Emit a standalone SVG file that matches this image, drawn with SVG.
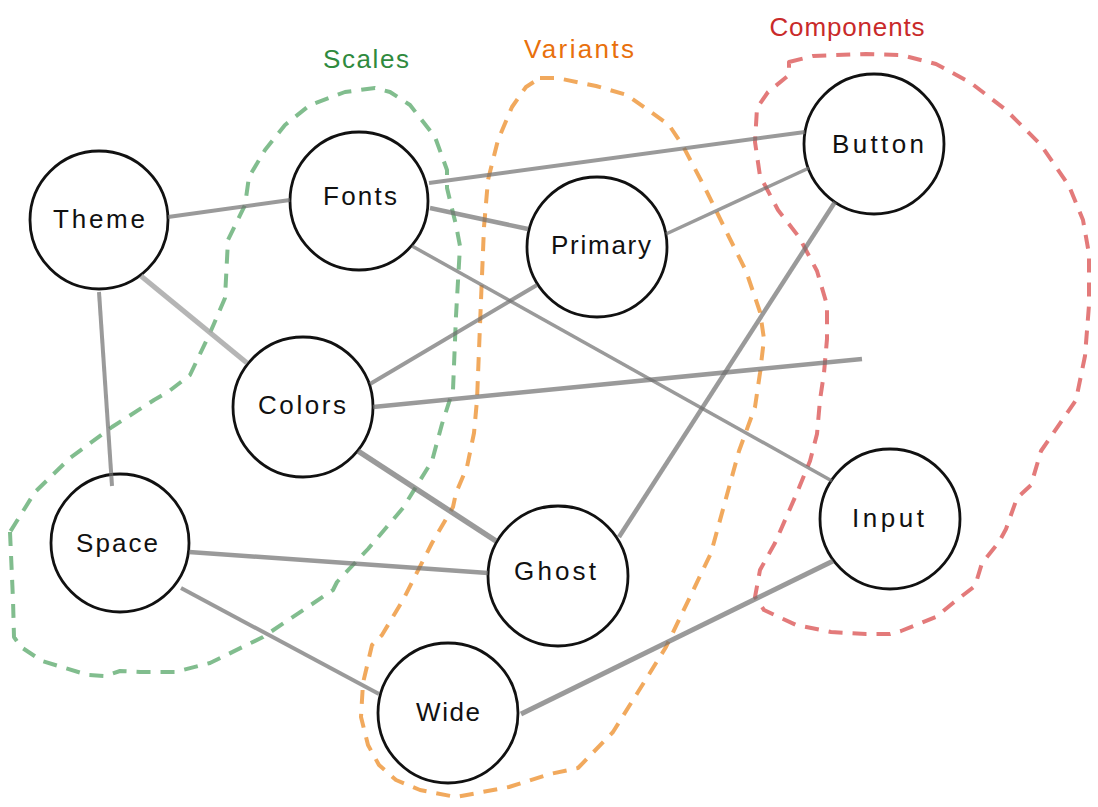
<svg xmlns="http://www.w3.org/2000/svg" width="1098" height="807" viewBox="0 0 1098 807">
<style>
.hull{fill:none;stroke-width:4;stroke-dasharray:14 10;stroke-linejoin:round;stroke-linecap:butt}
.edge{stroke:#6f6f6f;stroke-opacity:0.7;stroke-linecap:butt;fill:none}
.node circle{fill:#ffffff;stroke:#111111;stroke-width:2.8}
.node text{font-family:"Liberation Sans","DejaVu Sans",sans-serif;font-size:26px;fill:#111111;text-anchor:middle;dominant-baseline:central}
.glabel{font-family:"Liberation Sans","DejaVu Sans",sans-serif;font-size:26px;text-anchor:middle;dominant-baseline:central}
</style>
<rect width="1098" height="807" fill="#ffffff"/>
<g id="groups">
<path class="hull" stroke="#6bb27a" stroke-opacity="0.85" d="M10,532 L13,600 L14,637 L21,647 L42,661 L88,675 L105,676 L120,671 L140,672 L175,672 L210,663 L263,637 L333,590 L337,582 L368,549 L403,508 L432,461 L442,424 L453,390 L456,316 L460,246 L456,225 L447,188 L447,170 L435,137 L410,105 L390,92 L375,88 L345,92 L310,105 L285,125 L265,150 L249,177 L245,205 L228,240 L225,298 L210,333 L190,375 L168,392 L154,400 L112,427 L70,458 L35,492 L10,532"/>
<path class="hull" stroke="#f0a04b" stroke-opacity="0.9" d="M540,78 L557,78 L596,86 L627,95 L669,125 L683,146 L704,186 L729,237 L746,271 L760,312 L764,339 L760,373 L755,407 L739,451 L725,502 L711,553 L690,597 L666,647 L638,692 L613,732 L578,768 L550,774 L509,787 L456,797 L420,790 L396,780 L379,765 L368,745 L361,717 L363,683 L372,645 L382,635 L403,600 L432,543 L453,507 L456,493 L467,467 L474,433 L477,400 L481,300 L484,227 L488,180 L498,140 L512,107 L526,87 L540,78"/>
<path class="hull" stroke="#e06c6c" stroke-opacity="0.9" d="M789,62 L813,56 L866,54 L901,55 L936,64 L971,83 L1006,110 L1041,145 L1069,186 L1083,220 L1089,254 L1089,305 L1085,356 L1076,400 L1041,451 L1031,485 L1017,498 L1006,529 L999,542 L982,563 L975,586 L953,603 L936,617 L901,631 L890,634 L866,634 L831,632 L796,625 L764,610 L755,597 L760,570 L775,543 L796,495 L810,461 L817,434 L820,400 L824,373 L827,339 L827,305 L817,271 L799,237 L778,210 L760,176 L755,142 L757,108 L768,92 L789,75 Z"/>
<text class="glabel" x="366" y="59" fill="#2f8a3e" textLength="86">Scales</text>
<text class="glabel" x="579" y="49" fill="#e8700c" textLength="110">Variants</text>
<text class="glabel" x="847" y="27" fill="#c92a2a" textLength="155">Components</text>
</g>
<g id="node-theme" class="node"><circle cx="99" cy="220" r="69"/><text x="99" y="219" textLength="92">Theme</text></g>
<g id="node-fonts" class="node"><circle cx="359" cy="201" r="69"/><text x="360" y="196" textLength="74">Fonts</text></g>
<g id="node-primary" class="node"><circle cx="597" cy="247" r="70"/><text x="601" y="245" textLength="100">Primary</text></g>
<g id="node-button" class="node"><circle cx="874" cy="144" r="70"/><text x="878" y="144" textLength="92">Button</text></g>
<g id="node-colors" class="node"><circle cx="303" cy="407" r="70"/><text x="302" y="405" textLength="88">Colors</text></g>
<g id="node-space" class="node"><circle cx="120" cy="543" r="69"/><text x="117" y="543" textLength="82">Space</text></g>
<g id="node-ghost" class="node"><circle cx="558" cy="576" r="70"/><text x="555" y="571" textLength="82">Ghost</text></g>
<g id="node-input" class="node"><circle cx="890" cy="519" r="70"/><text x="888" y="518" textLength="72">Input</text></g>
<g id="node-wide" class="node"><circle cx="448" cy="713" r="70"/><text x="448" y="712" textLength="64">Wide</text></g>
<g id="connectors">
<line class="edge" x1="168" y1="217" x2="290" y2="200" stroke-width="4"/>
<line class="edge" x1="141" y1="276" x2="247" y2="363" stroke-width="5" style="stroke:#a8a8a8;stroke-opacity:0.85"/>
<line class="edge" x1="99" y1="292" x2="112" y2="486" stroke-width="4"/>
<line class="edge" x1="429" y1="183" x2="805" y2="132" stroke-width="4"/>
<line class="edge" x1="430" y1="208" x2="528" y2="229" stroke-width="4.5"/>
<line class="edge" x1="412" y1="246" x2="832" y2="481" stroke-width="3.5"/>
<line class="edge" x1="666" y1="234" x2="809" y2="168" stroke-width="3.5"/>
<line class="edge" x1="370" y1="384" x2="537" y2="285" stroke-width="4"/>
<line class="edge" x1="373" y1="407" x2="862" y2="359" stroke-width="4.5"/>
<line class="edge" x1="358" y1="451" x2="496" y2="541" stroke-width="5.5"/>
<line class="edge" x1="835" y1="202" x2="619" y2="537" stroke-width="4.5"/>
<line class="edge" x1="189" y1="552" x2="488" y2="573" stroke-width="4.5"/>
<line class="edge" x1="181" y1="588" x2="379" y2="694" stroke-width="4"/>
<line class="edge" x1="521" y1="714" x2="833" y2="561" stroke-width="5"/>
</g>
</svg>
